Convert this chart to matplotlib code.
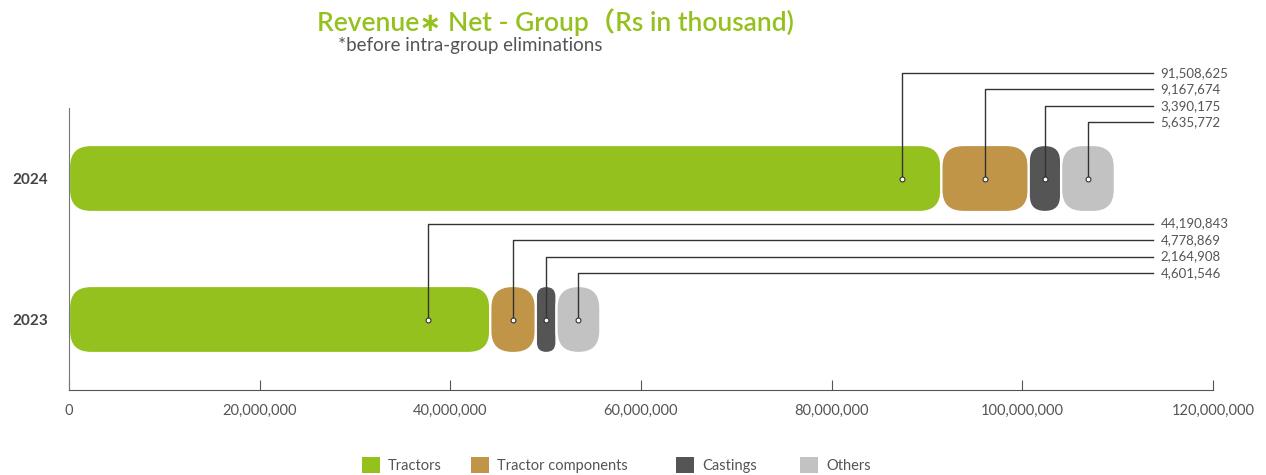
import matplotlib.pyplot as plt
from matplotlib.patches import FancyBboxPatch, Patch
from matplotlib.ticker import FuncFormatter

years = ["2023", "2024"]
segments = ["Tractors", "Tractor components", "Castings", "Others"]
tractors = [44190843, 91508625]
components = [4778869, 9167674]
castings = [2164908, 3390175]
others = [4601546, 5635772]
colors = ["#95C11F", "#C09548", "#555555", "#C2C2C2"]
# where the leader line meets the first (long) segment, as a fraction of it
first_anchor = [0.853, 0.955]

W, H, DPI = 1266, 475, 100
fig = plt.figure(figsize=(W / DPI, H / DPI), dpi=DPI)
ax = fig.add_axes([69 / W, 85 / H, 1144 / W, 282 / H])
xmax = 120_000_000
ax.set_xlim(0, xmax)
ax.set_ylim(-0.5, 1.5)

xpp = xmax / 1144          # data x per pixel
ypp = 2.0 / 282            # data y per pixel
aspect = ypp / xpp
bar_h = 67 * ypp
radius_px = 22

series = [tractors, components, castings, others]
for yi, year in enumerate(years):
    left = 0
    for si, vals in enumerate(series):
        v = vals[yi]
        r = min(radius_px * xpp, v / 2, bar_h / 2 / aspect)
        patch = FancyBboxPatch((left, yi - bar_h / 2), v, bar_h,
                               boxstyle=f"round,pad=0,rounding_size={r}",
                               mutation_aspect=aspect,
                               facecolor=colors[si], edgecolor="white", linewidth=1.6)
        ax.add_patch(patch)
        left += v

# leader lines with value labels
label_top = [0.68, 0.75]
label_step = 16.5 * ypp
line_end = 113.7e6
text_x = 114.5e6
for yi in range(len(years)):
    left = 0
    for si, vals in enumerate(series):
        v = vals[yi]
        frac = first_anchor[yi] if si == 0 else 0.5
        px = left + v * frac
        ly = yi + label_top[yi] - si * label_step
        ax.plot([px, px, line_end], [yi, ly, ly], color="#333333", lw=1,
                clip_on=False, zorder=3)
        ax.plot(px, yi, "o", ms=3.5, mfc="white", mec="#333333", mew=0.8,
                clip_on=False, zorder=4)
        ax.text(text_x, ly, f"{v:,}", fontsize=9.5, color="#555555",
                family="Lato", va="center", ha="left", clip_on=False)
        left += v

ax.set_yticks(range(len(years)))
ax.set_yticklabels(years, fontsize=11, fontweight="bold", color="#444444", family="Lato")
ax.tick_params(axis="y", length=0, pad=15)
ax.set_xticks(range(0, xmax + 1, 20_000_000))
ax.xaxis.set_major_formatter(FuncFormatter(lambda v, p: f"{int(v):,}"))
ax.tick_params(axis="x", direction="in", length=7, color="#555555",
               labelsize=10.5, labelcolor="#555555", pad=10)
for lbl in ax.get_xticklabels():
    lbl.set_family("Lato")
for side in ["top", "right"]:
    ax.spines[side].set_visible(False)
ax.spines["left"].set_color("#777777")
ax.spines["bottom"].set_color("#555555")

fig.text(555 / W, 1 - 22 / H, "Revenue\u2217 Net - Group\uff08Rs in thousand)",
         fontsize=19, fontweight="semibold", color="#95C11F", ha="center", va="center",
         family=["Lato", "DejaVu Sans", "Noto Sans CJK SC"])
fig.text(338 / W, 1 - 45 / H, "*before intra-group eliminations",
         fontsize=13.5, color="#555555", ha="left", va="center", family="Lato")

# legend entries sit at fixed horizontal slots, as in the original layout
legend_x = [362, 471, 676, 800]
for c, name, lx in zip(colors, segments, legend_x):
    fig.legend([Patch(facecolor=c, edgecolor="none")], [name], loc="center left",
               bbox_to_anchor=(lx / W, 1 - 465 / H), frameon=False,
               labelcolor="#555555", borderpad=0, borderaxespad=0,
               handlelength=1.25, handleheight=1.25, handletextpad=0.55,
               prop={"family": "Lato", "size": 10.5})

fig.savefig("out.png", dpi=DPI)
